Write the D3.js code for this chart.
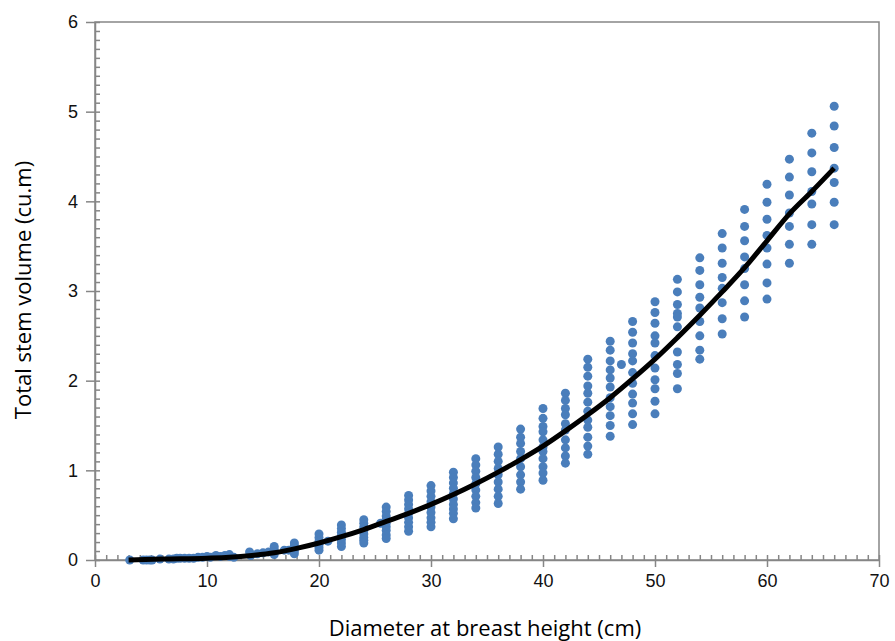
<!DOCTYPE html>
<html>
<head>
<meta charset="utf-8">
<script src="https://cdn.jsdelivr.net/npm/d3@7"></script>
<style>
  body { margin: 0; background: #fff; }
  svg { font-family: "Open Sans", "Noto Sans", sans-serif; }
  .axis path, .axis line { stroke: #868686; stroke-width: 1.5; }
  .axis text { font-size: 18px; fill: #111; }
</style>
</head>
<body>
<svg width="895" height="641"></svg>
<script>
// small trees, read one by one
const smallDbh = [3.1, 4.3, 4.6, 4.9, 5.1, 5.8, 6.6, 7.0, 7.3, 7.6, 8.0, 8.4, 8.8, 9.2, 9.6, 10.0,
  10.3, 10.8, 11.2, 11.6, 12.0, 12.0, 12.4, 13.8, 13.9, 14.5, 15.0, 15.5, 16.0, 16.0, 16.0, 16.0,
  16.9, 17.3, 17.8, 17.8, 17.8, 17.8, 17.8, 20.8, 25.5, 47];
const smallVol = [0.00, 0.00, 0.00, 0.00, 0.00, 0.01, 0.01, 0.01, 0.02, 0.02, 0.02, 0.02, 0.02, 0.03, 0.03, 0.04,
  0.03, 0.05, 0.04, 0.05, 0.06, 0.04, 0.03, 0.09, 0.05, 0.07, 0.08, 0.09, 0.15, 0.12, 0.09, 0.06,
  0.11, 0.11, 0.19, 0.16, 0.13, 0.10, 0.07, 0.21, 0.41, 2.18];

// diameter classes and the volumes stacked in each
const dbhClasses = [20, 22, 24, 26, 28, 30, 32, 34, 36, 38, 40, 42, 44, 46, 48, 50, 52, 54, 56, 58, 60, 62, 64, 66];
const classVol = [
  [0.29, 0.25, 0.21, 0.17, 0.14, 0.11],
  [0.39, 0.35, 0.31, 0.27, 0.23, 0.19, 0.15],
  [0.45, 0.41, 0.37, 0.33, 0.29, 0.25, 0.22, 0.19],
  [0.59, 0.54, 0.49, 0.45, 0.41, 0.37, 0.33, 0.28, 0.24],
  [0.72, 0.67, 0.62, 0.57, 0.52, 0.47, 0.42, 0.37, 0.32],
  [0.83, 0.77, 0.71, 0.65, 0.59, 0.53, 0.47, 0.42, 0.37],
  [0.98, 0.92, 0.86, 0.80, 0.74, 0.68, 0.62, 0.57, 0.52, 0.46],
  [1.13, 1.06, 0.99, 0.92, 0.85, 0.78, 0.71, 0.64, 0.58],
  [1.26, 1.18, 1.10, 1.02, 0.95, 0.87, 0.79, 0.71, 0.63],
  [1.46, 1.37, 1.30, 1.21, 1.13, 1.04, 0.95, 0.87, 0.79],
  [1.69, 1.58, 1.49, 1.43, 1.34, 1.26, 1.21, 1.13, 1.04, 0.97, 0.89],
  [1.86, 1.78, 1.69, 1.62, 1.52, 1.45, 1.34, 1.25, 1.16, 1.08],
  [2.24, 2.15, 2.05, 1.94, 1.86, 1.76, 1.66, 1.56, 1.48, 1.37, 1.27, 1.18],
  [2.44, 2.34, 2.22, 2.12, 2.03, 1.93, 1.81, 1.71, 1.61, 1.50, 1.38],
  [2.66, 2.54, 2.42, 2.30, 2.22, 2.09, 1.97, 1.85, 1.75, 1.63, 1.51],
  [2.88, 2.76, 2.64, 2.50, 2.42, 2.28, 2.14, 2.01, 1.91, 1.77, 1.63],
  [3.13, 2.99, 2.85, 2.75, 2.71, 2.60, 2.32, 2.18, 2.08, 1.91],
  [3.37, 3.23, 3.07, 2.93, 2.81, 2.66, 2.50, 2.34, 2.24],
  [3.64, 3.48, 3.31, 3.15, 3.03, 2.87, 2.69, 2.52],
  [3.91, 3.72, 3.56, 3.38, 3.25, 3.07, 2.89, 2.71],
  [4.19, 3.99, 3.80, 3.62, 3.48, 3.30, 3.09, 2.91],
  [4.47, 4.27, 4.07, 3.87, 3.72, 3.52, 3.31],
  [4.76, 4.54, 4.33, 4.11, 3.97, 3.74, 3.52],
  [5.06, 4.84, 4.60, 4.37, 4.21, 3.99, 3.74]
];

// fitted volume curve
const fitDbh = [3, 6, 10, 12, 14, 16, 18, 20, 22, 24, 26, 28, 30, 32, 34, 36, 38, 40, 42, 44, 46, 48, 50, 52, 54, 56, 58, 60, 62, 64, 66];
const fitVol = [0.00, 0.01, 0.02, 0.03, 0.05, 0.08, 0.13, 0.19, 0.26, 0.34, 0.43, 0.52, 0.62, 0.73, 0.85, 0.98, 1.12, 1.27, 1.44, 1.62, 1.81, 2.02, 2.24, 2.48, 2.73, 2.99, 3.26, 3.56, 3.86, 4.11, 4.37];

const xTicks = [0, 10, 20, 30, 40, 50, 60, 70];
const yTicks = [0, 1, 2, 3, 4, 5, 6];

const points = smallDbh.map((d, i) => ({ d: d, v: smallVol[i] }));
dbhClasses.forEach((d, i) => classVol[i].forEach(v => points.push({ d: d, v: v })));

const svg = d3.select('svg');
const x = d3.scaleLinear().domain([0, 70]).range([95, 879]);
const y = d3.scaleLinear().domain([0, 6]).range([560, 22]);

// frame
svg.append('rect')
  .attr('x', x(0)).attr('y', y(6))
  .attr('width', x(70) - x(0)).attr('height', y(0) - y(6))
  .attr('fill', 'none').attr('stroke', '#868686').attr('stroke-width', 1.5);

// minor ticks, inside
svg.append('g').attr('class', 'axis')
  .attr('transform', `translate(${x(0)},0)`)
  .call(d3.axisRight(y).tickValues(d3.range(61).map(i => i / 10)).tickSize(5).tickFormat(''))
  .select('.domain').remove();
svg.append('g').attr('class', 'axis')
  .attr('transform', `translate(0,${y(0)})`)
  .call(d3.axisTop(x).tickValues(d3.range(71)).tickSize(5).tickFormat(''))
  .select('.domain').remove();

// major ticks + labels
svg.append('g').attr('class', 'axis')
  .attr('transform', `translate(${x(0)},0)`)
  .call(d3.axisLeft(y).tickValues(yTicks).tickSizeInner(9).tickSizeOuter(0).tickPadding(8).tickFormat(d3.format('d')));
svg.append('g').attr('class', 'axis')
  .attr('transform', `translate(0,${y(0)})`)
  .call(d3.axisBottom(x).tickValues(xTicks).tickSizeInner(7).tickSizeOuter(0).tickPadding(7).tickFormat(d3.format('d')));

// points
svg.append('g')
  .selectAll('circle')
  .data(points)
  .enter()
  .append('circle')
  .attr('cx', p => x(p.d))
  .attr('cy', p => y(p.v))
  .attr('r', 4.5)
  .attr('fill', '#4a7ebb');

// fitted line
const line = d3.line().x((d, i) => x(d)).y((d, i) => y(fitVol[i])).curve(d3.curveMonotoneX);
svg.append('path')
  .datum(fitDbh)
  .attr('d', line)
  .attr('fill', 'none')
  .attr('stroke', '#000')
  .attr('stroke-width', 5)
  .attr('stroke-linejoin', 'round');

// axis titles
svg.append('text')
  .attr('x', 485).attr('y', 636)
  .attr('text-anchor', 'middle')
  .style('font-size', '22px')
  .text('Diameter at breast height (cm)');
svg.append('text')
  .attr('transform', 'translate(31,290) rotate(-90)')
  .attr('text-anchor', 'middle')
  .style('font-size', '22px')
  .text('Total stem volume (cu.m)');
</script>
</body>
</html>
